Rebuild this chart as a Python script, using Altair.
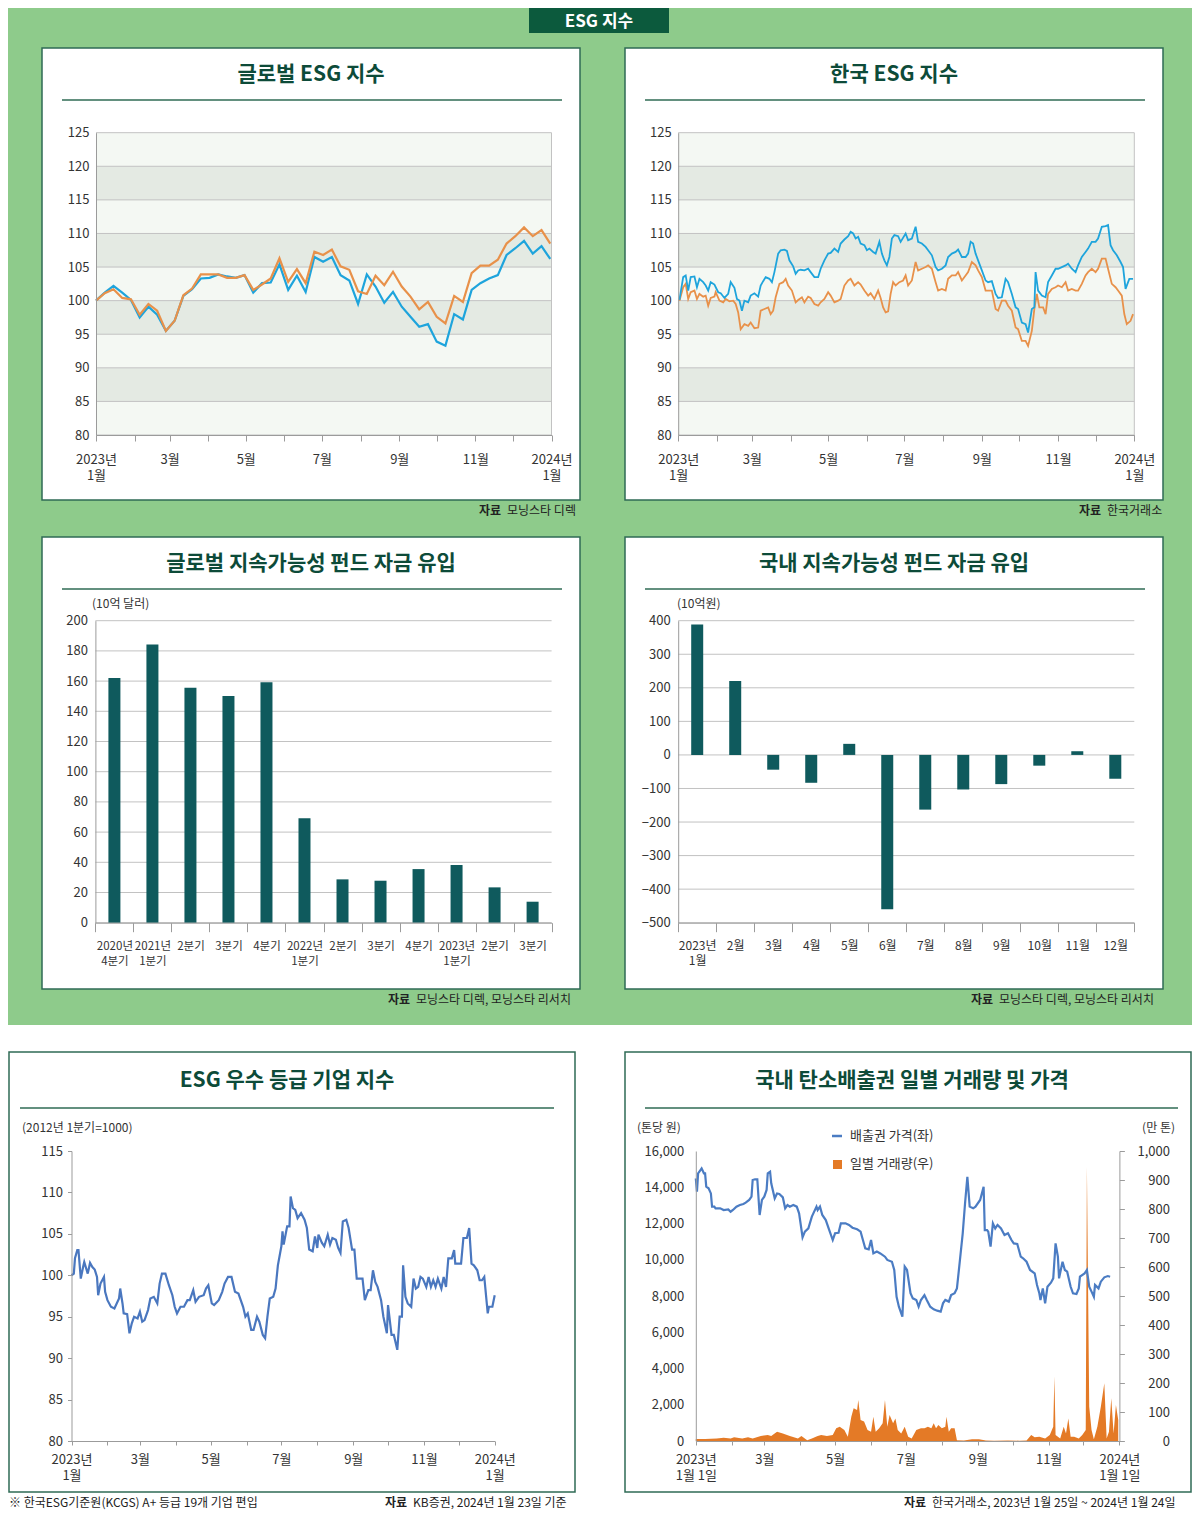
import json
import pandas as pd
import altair as alt

W, H = 1184, 1502
FONT = "Noto Sans CJK KR"

GREEN_BG = "#8ecb8b"
BANNER = "#0c5a3d"
BORDER = "#2f6b55"
TITLE_C = "#0d4b39"
TXT = "#333333"
AX = "#9b9b9b"
GRID = "#c2c2c2"
BAND_LIGHT = "#f4f8f3"
BAND_DARK = "#e4eae3"
ORANGE = "#e8914a"
SKY = "#1ea4dc"
BAR = "#0f5a5d"
LINE5 = "#4a77bf"
PRICE = "#4b7cc3"
VOL = "#e47a26"

# ---------------- data ----------------
month_days = [0, 31, 59, 90, 120, 151, 181, 212, 243, 273, 304, 334, 365]
month_labels = [["2023년", "1월"], "", "3월", "", "5월", "", "7월", "", "9월", "", "11월", "", ["2024년", "1월"]]
month_labels_day = [["2023년", "1월 1일"], "", "3월", "", "5월", "", "7월", "", "9월", "", "11월", "", ["2024년", "1월 1일"]]

index_ticks = [80, 85, 90, 95, 100, 105, 110, 115, 120, 125]

# Panel 1: global ESG (weekly)
global_weeks = list(range(0, 365, 7))
global_sustain = [100.0, 101.1, 101.7, 100.4, 100.2, 97.9, 99.5, 98.5, 95.5, 97.0,
                  100.8, 101.8, 103.9, 103.9, 103.9, 103.4, 103.4, 103.8, 101.6, 102.4,
                  103.3, 106.3, 102.8, 104.7, 102.6, 107.3, 106.8, 107.6, 105.1, 104.6,
                  101.4, 101.0, 103.7, 102.3, 104.3, 102.1, 100.6, 98.7, 99.8, 97.6,
                  96.6, 100.7, 99.8, 104.1, 105.2, 105.2, 106.1, 108.5, 109.6, 110.9,
                  109.6, 110.5, 108.5]
global_large = [100.0, 101.2, 102.2, 101.2, 100.1, 97.5, 99.1, 97.9, 95.5, 97.0,
                100.7, 101.7, 103.3, 103.4, 103.9, 103.6, 103.4, 103.8, 101.2, 102.6,
                102.7, 105.4, 101.6, 103.7, 101.3, 106.5, 105.8, 106.5, 103.8, 103.0,
                99.5, 103.9, 102.1, 99.7, 101.3, 99.1, 97.6, 96.1, 96.5, 93.9,
                93.3, 98.0, 97.2, 101.6, 102.6, 103.3, 103.8, 106.8, 107.8, 108.9,
                107.0, 108.1, 106.2]

# Panel 2: Korea ESG (day of year, index)
kospi = [(1, 100.1), (4, 103.5), (6, 103.75), (8, 101.5), (10, 103.5), (13, 103.6), (15, 102), (17, 103.25),
         (20, 102.75), (22, 102.25), (24, 101.5), (26, 102.75), (29, 102.4), (32, 101.25), (34, 101.1),
         (37, 100.4), (40, 101), (42, 102.75), (45, 101.9), (47, 100.25), (49, 100), (51, 98.5), (53, 100),
         (56, 99.75), (58, 100.75), (61, 101.1), (64, 100.6), (66, 102.25), (68, 102.9), (70, 103.5),
         (73, 103.25), (75, 102.75), (77, 104.25), (80, 107), (82, 107.5), (85, 107.6), (87, 107.4),
         (89, 106), (92, 105.1), (94, 104), (96, 104.5), (98, 104.6), (101, 104.5), (104, 104.75),
         (106, 104.25), (109, 103.5), (112, 103.5), (114, 104.75), (117, 106), (120, 107), (122, 107.1),
         (125, 107.75), (128, 107.25), (130, 108.5), (133, 109.1), (136, 109.6), (138, 110.25), (140, 110),
         (142, 109.25), (144, 109.5), (146, 108.5), (149, 108.25), (151, 107.5), (153, 107.75),
         (156, 107.25), (158, 107), (161, 108.75), (163, 107), (165, 106), (167, 105.25), (169, 106.5),
         (171, 109.25), (173, 109.75), (176, 109.6), (178, 108.75), (182, 110), (184, 109), (187, 109.25),
         (190, 111), (192, 108.75), (195, 108.5), (198, 108), (200, 107.5), (203, 106.75), (206, 105),
         (208, 104.5), (211, 104.75), (214, 105.25), (216, 106.5), (219, 107), (222, 107.25), (224, 107.6),
         (227, 106.5), (230, 106.5), (232, 107), (234, 108.75), (236, 108.5), (238, 107), (240, 106),
         (243, 104.5), (246, 103), (248, 102.75), (251, 102.9), (254, 101), (256, 100.4), (259, 100.5),
         (262, 103.25), (264, 102.75), (267, 101), (270, 99), (272, 98.75), (275, 96.75), (278, 96.5),
         (280, 95.25), (283, 98.75), (285, 99), (286, 104.25), (288, 101.5), (291, 100.75), (294, 100.5),
         (296, 102.75), (299, 103.75), (302, 104.75), (304, 104.75), (307, 105), (310, 105.25),
         (312, 105.5), (315, 104.75), (318, 104.25), (320, 105.25), (323, 106.5), (326, 107.25),
         (328, 107.75), (331, 108.75), (334, 108.75), (336, 109.25), (339, 111), (342, 111.1),
         (344, 111.25), (346, 108.25), (348, 107.5), (351, 106.75), (354, 105.75), (356, 105),
         (358, 101.75), (361, 103.25), (364, 103.25)]
krx_leaders = [(1, 100), (4, 102), (6, 102.5), (8, 100.25), (10, 101.25), (13, 101.5), (15, 100.25), (17, 101),
               (20, 100.6), (22, 100.75), (24, 99.25), (26, 100.4), (29, 100.6), (30, 101.25), (33, 100),
               (36, 99.75), (38, 100.25), (41, 99.9), (44, 100), (46, 99.5), (48, 98.25), (50, 95.75),
               (53, 96.5), (56, 96.25), (58, 96.75), (61, 95.9), (64, 96), (66, 98.5), (69, 98.75), (72, 99),
               (74, 98), (76, 98.5), (78, 100.5), (81, 102.5), (84, 102.75), (86, 103.25), (88, 102.25),
               (91, 101.5), (94, 99.75), (96, 100.1), (99, 100.5), (101, 99.75), (104, 100.6), (106, 100.4),
               (109, 99.5), (112, 99.25), (114, 99.75), (117, 100.25), (120, 101.25), (122, 100.75),
               (125, 99.75), (128, 100), (130, 100.25), (133, 102.25), (136, 103), (138, 103.25),
               (141, 102.25), (144, 102.75), (146, 102.4), (149, 101.5), (152, 100.75), (154, 101.1),
               (157, 100.25), (160, 101.5), (162, 100.4), (164, 99), (166, 98.25), (168, 98.4), (170, 101),
               (172, 102.75), (174, 102.25), (177, 102.75), (180, 103), (182, 103.75), (184, 102.25),
               (187, 103), (190, 105.75), (192, 104.5), (195, 104.75), (198, 105), (200, 105.25),
               (203, 104.75), (206, 102.75), (208, 101.5), (211, 101.75), (214, 101.5), (216, 103.25),
               (219, 103.75), (222, 103.75), (224, 104.25), (227, 103), (230, 103.75), (232, 104.25),
               (235, 105.75), (238, 105.25), (240, 104.5), (243, 103.5), (246, 101.5), (248, 101.5),
               (251, 101.5), (254, 98.75), (256, 98.5), (259, 100), (262, 100), (264, 99.25), (267, 98.5),
               (270, 96), (272, 95.75), (275, 94), (278, 94), (280, 93.25), (283, 95.5), (285, 98.75),
               (287, 101), (289, 99), (292, 99), (294, 98), (296, 101), (299, 101.75), (302, 102),
               (304, 102.25), (307, 102), (310, 102.75), (312, 101.5), (315, 101.75), (318, 101.5),
               (320, 101.5), (323, 102.5), (326, 103.75), (328, 104.25), (331, 104.75), (334, 104.25),
               (336, 104.75), (339, 106.25), (342, 106.25), (344, 104.75), (347, 102.5), (350, 102),
               (352, 101.5), (355, 100.75), (357, 98), (359, 96.5), (362, 97), (364, 98)]

# Panel 3: global sustainable fund flows (USD bn)
global_quarters = ["2020년 4분기", "2021년 1분기", "2021년 2분기", "2021년 3분기", "2021년 4분기", "2022년 1분기",
                   "2022년 2분기", "2022년 3분기", "2022년 4분기", "2023년 1분기", "2023년 2분기", "2023년 3분기"]
global_quarter_labels = [["2020년", "4분기"], ["2021년", "1분기"], "2분기", "3분기", "4분기", ["2022년", "1분기"],
                         "2분기", "3분기", "4분기", ["2023년", "1분기"], "2분기", "3분기"]
global_flows = [162.0, 184.3, 155.6, 150.1, 159.2, 69.1, 28.7, 27.8, 35.5, 38.2, 23.4, 13.9]
global_flow_ticks = [0, 20, 40, 60, 80, 100, 120, 140, 160, 180, 200]

# Panel 4: domestic sustainable fund flows (KRW bn)
domestic_months = ["2023-01", "2023-02", "2023-03", "2023-04", "2023-05", "2023-06",
                   "2023-07", "2023-08", "2023-09", "2023-10", "2023-11", "2023-12"]
domestic_month_labels = [["2023년", "1월"], "2월", "3월", "4월", "5월", "6월", "7월", "8월", "9월", "10월", "11월", "12월"]
domestic_flows = [389, 220, -44, -83, 33, -460, -163, -103, -87, -32, 11, -71]
domestic_flow_ticks = [-500, -400, -300, -200, -100, 0, 100, 200, 300, 400]

# Panel 5: ESG top-grade company index
esg_top = [(0, 100.0), (2, 100.2), (3, 102.05), (5, 103.05), (6, 103.05), (8, 99.6), (10, 101), (11, 101.6),
           (14, 100.2), (16, 101.5), (18, 101), (20, 100.7), (22, 99.8), (23, 97.6), (25, 99), (28, 99.8),
           (29, 98), (31, 97), (34, 96.2), (37, 96), (41, 97.2), (42, 98.4), (44, 96.6), (45, 95.4), (48, 95.3),
           (50, 93), (52, 94.2), (54, 95), (57, 94.8), (59, 95.6), (61, 94.4), (63, 94.6), (66, 95.8),
           (68, 97.2), (71, 97.4), (74, 96.6), (76, 99), (78, 100.2), (81, 100.2), (84, 98.8), (87, 97.6),
           (89, 96.2), (91, 95.4), (94, 96.2), (97, 96.2), (100, 97), (102, 97), (105, 98.2), (107, 96.8),
           (110, 97.4), (114, 97.6), (116, 98.4), (118, 98.8), (121, 96.6), (123, 96.4), (127, 97), (130, 98),
           (132, 99), (135, 99.8), (138, 99.8), (141, 98), (144, 97.8), (148, 96.2), (150, 95), (152, 95.4),
           (155, 93.4), (157, 93.4), (160, 95), (162, 94.4), (165, 92.8), (167, 92.4), (169, 95), (171, 97.2),
           (174, 97.4), (176, 98.4), (178, 101.2), (181, 103.5), (182, 105.3), (183, 103.7), (186, 105.9),
           (188, 105.9), (189, 109.5), (191, 108.1), (193, 107.9), (195, 106.9), (198, 107.5), (201, 106.7),
           (203, 105.7), (205, 103.1), (208, 102.9), (210, 104.7), (212, 103.3), (213, 104.9), (216, 103.9),
           (218, 103.5), (221, 104.9), (223, 103.7), (225, 104.5), (228, 104.3), (230, 103.3), (232, 102.7),
           (234, 106.5), (237, 106.7), (239, 105.7), (242, 103.1), (244, 103.1), (246, 99.6), (248, 99.6),
           (251, 99.6), (253, 97), (256, 98.2), (258, 98.2), (260, 100.6), (262, 99.2), (264, 98.6), (267, 97),
           (269, 95), (272, 93), (273, 96.4), (276, 92.8), (278, 92.8), (281, 91), (283, 95), (285, 95),
           (286, 101.2), (288, 97.4), (290, 96.6), (293, 96.2), (295, 99.6), (297, 98.4), (299, 98.6),
           (301, 99.8), (303, 99.6), (306, 98.6), (308, 99.8), (310, 98.6), (312, 99.4), (314, 98.6),
           (316, 99.6), (319, 98.4), (321, 99.8), (323, 98.6), (325, 102.05), (328, 102.05), (330, 103.05),
           (331, 101.4), (336, 101.4), (338, 104.5), (341, 104.5), (343, 105.7), (345, 101.4), (347, 101.2),
           (350, 100.6), (352, 99.4), (354, 99.4), (356, 99.8), (359, 95.4), (360, 96.2), (363, 96.2),
           (365, 97.6)]
esg_top_ticks = [80, 85, 90, 95, 100, 105, 110, 115]

# Panel 6: carbon allowance price (KRW/t) and daily volume (10k t)
carbon_price = [(0, 14490), (1, 13760), (2, 14770), (4, 14950), (5, 15040), (7, 14770), (8, 14770), (9, 14030),
                (11, 13940), (13, 13660), (14, 12930), (16, 12930), (17, 12840), (21, 12840), (24, 12745),
                (28, 12780), (30, 12650), (32, 12745), (35, 12930), (38, 13020), (41, 13075), (43, 13150),
                (46, 13300), (48, 13480), (49, 14400), (51, 14440), (53, 14440), (55, 12470), (57, 13300),
                (59, 13480), (61, 13850), (62, 14770), (64, 14860), (65, 14220), (68, 13390), (70, 13660),
                (72, 13630), (75, 13440), (77, 12840), (79, 13020), (81, 12930), (84, 13020), (87, 12930),
                (89, 12560), (92, 11240), (94, 11550), (97, 11730), (100, 12380), (104, 12930), (105, 12745),
                (107, 12930), (109, 12470), (112, 12190), (115, 11640), (118, 11090), (120, 11460),
                (123, 11490), (125, 12010), (129, 12010), (132, 11920), (135, 11770), (139, 11680),
                (142, 11550), (144, 11090), (146, 10630), (149, 10570), (151, 11090), (153, 10350),
                (156, 10450), (159, 10350), (163, 10170), (165, 9990), (169, 9890), (171, 9435), (173, 7960),
                (175, 7410), (178, 6860), (180, 9620), (182, 9435), (185, 8150), (187, 7870), (190, 7780),
                (192, 7410), (194, 7780), (197, 8050), (199, 7780), (202, 7410), (205, 7265), (208, 7190),
                (211, 7135), (213, 7595), (215, 7780), (218, 7690), (220, 8050), (223, 8150), (225, 8420),
                (227, 9620), (230, 11460), (232, 13110), (234, 14580), (236, 12930), (239, 12840),
                (241, 12930), (245, 13300), (248, 14030), (249, 11640), (251, 11640), (252, 11550),
                (254, 10720), (256, 12010), (258, 11730), (260, 11920), (263, 11730), (266, 11360),
                (269, 11460), (272, 11090), (274, 10900), (277, 10870), (280, 10170), (282, 10080),
                (285, 9890), (288, 9435), (292, 9250), (294, 8610), (296, 8150), (297, 7780), (299, 8420),
                (301, 7595), (303, 8510), (306, 8735), (308, 8975), (310, 10900), (312, 10170), (313, 8975),
                (316, 9890), (318, 9435), (320, 9340), (323, 8510), (325, 8150), (328, 8110), (330, 8420),
                (331, 9065), (335, 9250), (337, 9435), (339, 8510), (341, 8240), (343, 7960), (344, 8610),
                (347, 8420), (349, 8790), (352, 9030), (355, 9100), (357, 9065)]
carbon_volume = [(0, 7), (8, 7), (18, 9), (24, 11), (30, 9), (33, 13), (40, 9), (45, 13), (49, 9), (56, 17),
                 (62, 21), (65, 17), (70, 32), (75, 26), (81, 17), (88, 9), (91, 17), (96, 3), (100, 9),
                 (105, 17), (108, 21), (113, 17), (118, 21), (121, 44), (124, 49), (128, 38), (131, 15),
                 (134, 84), (136, 113), (139, 107), (140, 141), (142, 72), (145, 67), (148, 38), (151, 32),
                 (153, 84), (155, 32), (158, 44), (161, 61), (163, 141), (165, 49), (167, 90), (170, 61),
                 (172, 78), (174, 38), (177, 26), (180, 49), (183, 15), (186, 9), (190, 38), (194, 44),
                 (197, 44), (200, 49), (203, 44), (205, 61), (207, 44), (209, 55), (212, 44), (215, 49),
                 (216, 84), (218, 32), (220, 44), (223, 44), (225, 3), (231, 2), (238, 6), (244, 6), (250, 2),
                 (257, 1), (269, 2), (279, 1), (285, 2), (289, 21), (292, 13), (296, 15), (301, 9), (305, 21),
                 (308, 49), (309, 222), (310, 21), (314, 9), (317, 49), (319, 26), (321, 78), (323, 15),
                 (326, 15), (330, 9), (333, 21), (336, 38), (337, 946), (339, 118), (341, 38), (343, 6),
                 (346, 49), (349, 118), (352, 199), (354, 9), (356, 32), (358, 147), (360, 26), (362, 124),
                 (364, 72)]
price_ticks = [0, 2000, 4000, 6000, 8000, 10000, 12000, 14000, 16000]
volume_ticks = [0, 100, 200, 300, 400, 500, 600, 700, 800, 900, 1000]

# ---------------- layout (pixels of the plot areas) ----------------
PX1, PY1 = [88, 543.5], [427, 124.7]
PX2, PY2 = [670.2, 1126.3], [427, 124.7]
PX3, PY3 = [87.4, 543.6], [914.7, 612.7]
PX4, PY4 = [670.2, 1126.3], [914.7, 612.7]
PX5, PY5 = [63.5, 486.7], [1433, 1143]
PX6, PY6 = [687.8, 1111.4], [1433, 1143]

ONE = pd.DataFrame({"k": [0]})


def box(x0, x1, y0, y1, fill, stroke=None, sw=0):
    kw = dict(fill=fill)
    if stroke:
        kw.update(stroke=stroke, strokeWidth=sw)
    return alt.Chart(ONE).mark_rect(**kw).encode(
        x=alt.value(x0), x2=alt.value(x1), y=alt.value(y0), y2=alt.value(y1))


def label(x, y, s, size=12, color=TXT, weight="normal", align="left"):
    return alt.Chart(ONE).mark_text(text=s, font=FONT, fontSize=size, color=color, fontWeight=weight,
                                    align=align, baseline="middle").encode(x=alt.value(x), y=alt.value(y))


def hline(x0, x1, y, color, sw):
    return alt.Chart(ONE).mark_rule(color=color, strokeWidth=sw).encode(
        x=alt.value(x0), x2=alt.value(x1), y=alt.value(y))


def label_expr(values, labels):
    parts = [f"datum.value == {json.dumps(v, ensure_ascii=False)} ? {json.dumps(l, ensure_ascii=False)}"
             for v, l in zip(values, labels) if l]
    return " : ".join(parts) + " : ''"


def x_axis(y_svg, values, labels, size=13, tick=6, pad=10, band=False):
    kw = dict(orient="bottom", offset=y_svg - H, values=values, labelExpr=label_expr(values, labels),
              tickSize=tick, tickColor=AX, domainColor=AX, labelFont=FONT, labelFontSize=size,
              labelColor=TXT, labelPadding=pad, labelLineHeight=size + 3, labelOverlap=False,
              labelFlush=False, labelBound=False, labelBaseline="top", labelAngle=0, labelAlign="center",
              grid=False, title=None, zindex=1)
    if band:
        kw["tickBand"] = "extent"
    return alt.Axis(**kw)


def y_axis(x_svg, values, orient="left", fmt=None, tick=0, pad=7, align=None, size=13, domain=True):
    offset = -x_svg if orient == "left" else x_svg - W
    kw = dict(orient=orient, offset=offset, values=values, tickSize=tick, ticks=tick > 0, tickColor=AX,
              domain=domain, domainColor=AX, labelFont=FONT, labelFontSize=size, labelColor=TXT,
              labelPadding=pad, labelOverlap=False, labelBound=False, labelFlush=False, grid=False,
              title=None, zindex=1)
    if fmt:
        kw["format"] = fmt
    if align:
        kw["labelAlign"] = align
    return alt.Axis(**kw)


def qscale(domain, rng):
    return alt.Scale(domain=domain, range=rng, nice=False, zero=False)


def pairs_df(pairs):
    return pd.DataFrame(pairs, columns=["day", "value"])


def bands_layer(px, py):
    lo = index_ticks[:-1]
    df = pd.DataFrame({"lo": lo, "hi": index_ticks[1:], "x0": 0, "x1": 365,
                       "shade": ["light" if i % 2 == 0 else "dark" for i in range(len(lo))]})
    return alt.Chart(df).mark_rect().encode(
        x=alt.X("x0:Q", scale=qscale([0, 365], px), axis=None), x2="x1:Q",
        y=alt.Y("lo:Q", scale=qscale([80, 125], py), axis=None), y2="hi:Q",
        color=alt.Color("shade:N", scale=alt.Scale(domain=["light", "dark"], range=[BAND_LIGHT, BAND_DARK]),
                        legend=None))


def hgrid_layer(ticks, px, py, ydom, xdom=(0, 1)):
    df = pd.DataFrame({"v": ticks, "x0": xdom[0], "x1": xdom[1]})
    return alt.Chart(df).mark_rule(color=GRID, strokeWidth=1).encode(
        x=alt.X("x0:Q", scale=qscale(list(xdom), px), axis=None), x2="x1:Q",
        y=alt.Y("v:Q", scale=qscale(ydom, py), axis=None))


def vedge_layer(px, py, ydom):
    df = pd.DataFrame({"x": [365], "y0": [ydom[0]], "y1": [ydom[1]]})
    return alt.Chart(df).mark_rule(color=GRID, strokeWidth=1).encode(
        x=alt.X("x:Q", scale=qscale([0, 365], px), axis=None),
        y=alt.Y("y0:Q", scale=qscale(ydom, py), axis=None), y2="y1:Q")


def line_layer(df, color, width, px, py, ydom, xaxis=None, yaxis=None):
    return alt.Chart(df).mark_line(color=color, strokeWidth=width).encode(
        x=alt.X("day:Q", scale=qscale([0, 365], px), axis=xaxis),
        y=alt.Y("value:Q", scale=qscale(ydom, py), axis=yaxis))


layers = []

# ---------------- decorations ----------------
layers.append(box(0, W, 0, 1017, GREEN_BG))
layers.append(box(521, 661, 0, 25, BANNER))
layers.append(label(591, 14, "ESG 지수", size=17, color="white", weight="bold", align="center"))

for (x0, x1, y0, y1) in [(34, 572, 40, 492), (617, 1155, 40, 492), (34, 572, 529, 981),
                         (617, 1155, 529, 981), (1, 567, 1044, 1484), (617, 1183, 1044, 1484)]:
    layers.append(box(x0, x1, y0, y1, "white", BORDER, 1.5))

titles = [(303, 67, "글로벌 ESG 지수"), (886, 67, "한국 ESG 지수"),
          (303, 556, "글로벌 지속가능성 펀드 자금 유입"), (886, 556, "국내 지속가능성 펀드 자금 유입"),
          (279, 1073, "ESG 우수 등급 기업 지수"), (904, 1073, "국내 탄소배출권 일별 거래량 및 가격")]
for x, y, s in titles:
    layers.append(label(x, y, s, size=21, color=TITLE_C, weight="bold", align="center"))

for (x0, x1, y) in [(54, 554, 92), (637, 1137, 92), (54, 554, 581), (637, 1137, 581),
                    (12, 546, 1100), (637, 1170, 1100)]:
    layers.append(hline(x0, x1, y, BORDER, 1.5))

# legends panel 1 & 2
layers += [hline(112, 128, 149, ORANGE, 2.5), label(139, 149, "모닝스타 선진국 지속가능 지수(미국 제외)", 12.5),
           hline(112, 128, 168, SKY, 2.5), label(139, 168, "모닝스타 선진국 대형주 지수", 12.5),
           hline(695, 711, 149, ORANGE, 2.5), label(721, 149, "KRX 리더스 150 지수", 12.5),
           hline(695, 711, 167, SKY, 2.5), label(721, 167, "코스피 지수", 12.5)]

# unit labels
layers += [label(84, 596, "(10억 달러)", 12), label(669, 596, "(10억원)", 12),
           label(14, 1120, "(2012년 1분기=1000)", 12), label(629, 1120, "(톤당 원)", 12),
           label(1167, 1120, "(만 톤)", 12, align="right")]

# legend panel 6
layers += [hline(824, 834, 1128, PRICE, 2.5), label(842, 1128, "배출권 가격(좌)", 13),
           box(825, 834, 1152, 1161, VOL), label(842, 1156, "일별 거래량(우)", 13)]

# sources
sources = [(471, 499, 503, "모닝스타 디렉"), (1071, 1099, 503, "한국거래소"),
           (380, 408, 992, "모닝스타 디렉, 모닝스타 리서치"), (963, 991, 992, "모닝스타 디렉, 모닝스타 리서치"),
           (377, 405, 1495, "KB증권, 2024년 1월 23일 기준"),
           (896, 924, 1495, "한국거래소, 2023년 1월 25일 ~ 2024년 1월 24일")]
for xb, xr, y, s in sources:
    layers += [label(xb, y, "자료", 12, color="#222222", weight="bold"), label(xr, y, s, 12, color="#222222")]
layers.append(label(1, 1495, "※ 한국ESG기준원(KCGS) A+ 등급 19개 기업 편입", 12, color="#222222"))

# ---------------- panel 1 ----------------
layers += [bands_layer(PX1, PY1), hgrid_layer(index_ticks, PX1, PY1, [80, 125], (0, 365)),
           vedge_layer(PX1, PY1, [80, 125])]
g_large = pd.DataFrame({"day": global_weeks, "value": global_large})
g_sus = pd.DataFrame({"day": global_weeks, "value": global_sustain})
layers.append(line_layer(g_large, SKY, 2.2, PX1, PY1, [80, 125],
                         xaxis=x_axis(PY1[0], month_days, month_labels, tick=6, pad=12),
                         yaxis=y_axis(PX1[0], index_ticks, pad=7)))
layers.append(line_layer(g_sus, ORANGE, 2.2, PX1, PY1, [80, 125]))

# ---------------- panel 2 ----------------
layers += [bands_layer(PX2, PY2), hgrid_layer(index_ticks, PX2, PY2, [80, 125], (0, 365)),
           vedge_layer(PX2, PY2, [80, 125])]
layers.append(line_layer(pairs_df(krx_leaders), ORANGE, 1.8, PX2, PY2, [80, 125],
                         xaxis=x_axis(PY2[0], month_days, month_labels, tick=6, pad=12),
                         yaxis=y_axis(PX2[0], index_ticks, pad=7)))
layers.append(line_layer(pairs_df(kospi), SKY, 1.8, PX2, PY2, [80, 125]))

# ---------------- panel 3 ----------------
layers.append(hgrid_layer(global_flow_ticks, PX3, PY3, [0, 200]))
df3 = pd.DataFrame({"q": global_quarters, "v": global_flows})
layers.append(alt.Chart(df3).mark_bar(color=BAR, size=12).encode(
    x=alt.X("q:N", sort=global_quarters,
            scale=alt.Scale(domain=global_quarters, range=PX3, paddingInner=0, paddingOuter=0),
            axis=x_axis(PY3[0], global_quarters, global_quarter_labels, size=11.5, tick=9, pad=9, band=True)),
    y=alt.Y("v:Q", scale=qscale([0, 200], PY3), axis=y_axis(PX3[0], global_flow_ticks, pad=8))))

# ---------------- panel 4 ----------------
layers.append(hgrid_layer(domestic_flow_ticks, PX4, PY4, [-500, 400]))
df4 = pd.DataFrame({"m": domestic_months, "v": domestic_flows})
layers.append(alt.Chart(df4).mark_bar(color=BAR, size=12).encode(
    x=alt.X("m:N", sort=domestic_months,
            scale=alt.Scale(domain=domestic_months, range=PX4, paddingInner=0, paddingOuter=0),
            axis=x_axis(PY4[0], domestic_months, domestic_month_labels, size=12, tick=9, pad=9, band=True)),
    y=alt.Y("v:Q", scale=qscale([-500, 400], PY4), axis=y_axis(PX4[0], domestic_flow_ticks, pad=8))))

# ---------------- panel 5 ----------------
layers.append(line_layer(pairs_df(esg_top), LINE5, 2.2, PX5, PY5, [80, 115],
                         xaxis=x_axis(PY5[0], month_days, month_labels, tick=4, pad=8),
                         yaxis=y_axis(PX5[0], esg_top_ticks, tick=4, pad=5)))

# ---------------- panel 6 ----------------
vol_df = pairs_df(carbon_volume)
layers.append(alt.Chart(vol_df).mark_area(color=VOL, opacity=1).encode(
    x=alt.X("day:Q", scale=qscale([0, 365], PX6), axis=None),
    y=alt.Y("value:Q", scale=qscale([0, 1000], PY6),
            axis=y_axis(PX6[1], volume_ticks, orient="right", fmt=",.0f", tick=5, pad=45, align="right"))))
layers.append(line_layer(pairs_df(carbon_price), PRICE, 2.2, PX6, PY6, [0, 16000],
                         xaxis=x_axis(PY6[0], month_days, month_labels_day, tick=4, pad=8),
                         yaxis=y_axis(PX6[0], price_ticks, fmt=",.0f", pad=12)))

chart = alt.layer(*layers).resolve_scale(
    x="independent", y="independent", color="independent"
).resolve_axis(x="independent", y="independent").properties(
    width=W, height=H, padding=0, autosize=alt.AutoSizeParams(type="none")
).configure_view(strokeWidth=0)

chart.save("out.html", embed_options={"renderer": "svg", "actions": False})
